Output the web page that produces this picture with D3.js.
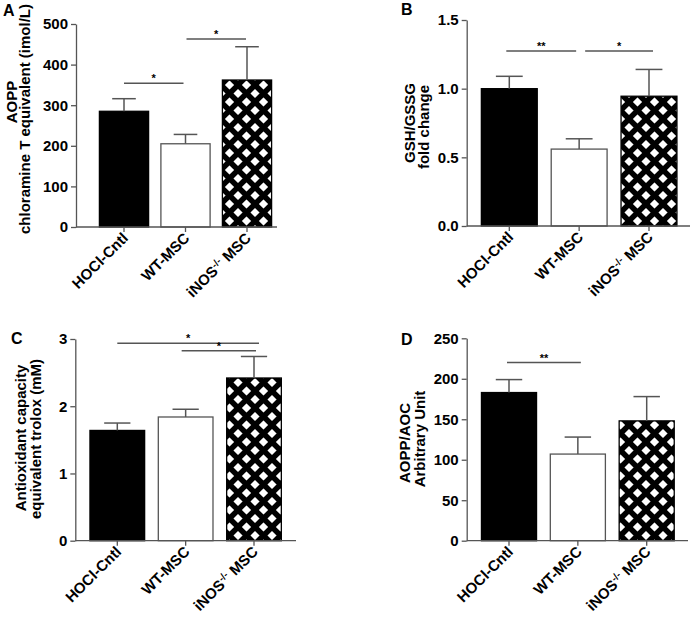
<!DOCTYPE html>
<html>
<head>
<meta charset="utf-8">
<script src="https://cdn.jsdelivr.net/npm/d3@7"></script>
<style>
html,body{margin:0;padding:0;background:#fff;}
svg{display:block;}
text{font-family:"Liberation Sans",Arial,Helvetica,sans-serif;font-weight:bold;fill:#000;}
</style>
</head>
<body>
<svg id="chart" width="694" height="623"></svg>
<script>
// ---------- data ----------
const categories = ["HOCl-Cntl", "WT-MSC", "iNOS-/- MSC"];

const aoppMean = [285, 205, 362];
const aoppSem  = [31, 23, 82];
const aoppTicks = [0, 100, 200, 300, 400, 500];
const aoppSig = [[0, 1, 354, "*"], [1, 2, 463, "*"]];

const gshMean = [1.0, 0.56, 0.945];
const gshSem  = [0.09, 0.075, 0.195];
const gshTicks = [0, 0.5, 1.0, 1.5];
const gshSig = [[0, 1, 1.275, "**"], [1, 2, 1.275, "*"]];

const aocMean = [1.64, 1.84, 2.42];
const aocSem  = [0.11, 0.115, 0.32];
const aocTicks = [0, 1, 2, 3];
const aocSig = [[0, 2, 2.937, "*"], [1, 2, 2.827, "*"]];

const ratioMean = [183, 107, 148];
const ratioSem  = [16, 21, 30];
const ratioTicks = [0, 50, 100, 150, 200, 250];
const ratioSig = [[0, 1, 220, "**"]];

// ---------- layout ----------
const svg = d3.select("#chart");
const defs = svg.append("defs");
const pat = defs.append("pattern").attr("id", "hatch")
  .attr("patternUnits", "userSpaceOnUse").attr("width", 17).attr("height", 17);
pat.append("rect").attr("width", 17).attr("height", 17).attr("fill", "#fff");
pat.append("path")
  .attr("d", "M-5,-5L22,22M22,-5L-5,22M-5,5L5,-5M12,22L22,12")
  .attr("stroke", "#000").attr("stroke-width", 5.5).attr("fill", "none");

const AXIS = "#555";
const fills = ["#000", "#fff", "url(#hatch)"];
const strokes = ["#000", AXIS, "#000"];
const FS = 15;

const panels = [
  { mean: aoppMean, sem: aoppSem, ticks: aoppTicks, sig: aoppSig, fmt: d3.format("d"),
    domain: [0, 500], left: 76, right: 277, y0: 227, yTop: 24, c0: 124, step: 61.5,
    letter: "A", lx: 3, ly: 16, sigDx: [[0, -2], [1, -1]],
    titles: [{t: "AOPP", x: 17, y: 102}, {t: "chloramine T equivalent (imol/L)", x: 30, y: 119}] },
  { mean: gshMean, sem: gshSem, ticks: gshTicks, sig: gshSig, fmt: d3.format(".1f"),
    domain: [0, 1.5], left: 466.7, right: 690, y0: 226, yTop: 20, c0: 509.3, step: 69.85,
    letter: "B", lx: 401, ly: 15, sigDx: [[-3, -3], [6, 4]],
    titles: [{t: "GSH/GSSG", x: 415, y: 123}, {t: "fold change", x: 429, y: 127}] },
  { mean: aocMean, sem: aocSem, ticks: aocTicks, sig: aocSig, fmt: d3.format("d"),
    domain: [0, 3], left: 75.3, right: 296, y0: 540.7, yTop: 339, c0: 117.3, step: 68.35,
    letter: "C", lx: 11, ly: 344, sigDx: [[0, 5], [-4, 2]],
    titles: [{t: "Antioxidant capacity", x: 26, y: 438}, {t: "equivalent trolox (mM)", x: 41, y: 439}] },
  { mean: ratioMean, sem: ratioSem, ticks: ratioTicks, sig: ratioSig, fmt: d3.format("d"),
    domain: [0, 250], left: 466.7, right: 688, y0: 540.7, yTop: 338.3, c0: 509, step: 68.85,
    letter: "D", lx: 401, ly: 345, sigDx: [[-2, 3]],
    titles: [{t: "AOPP/AOC", x: 410, y: 443}, {t: "Arbitrary Unit", x: 425, y: 439}] }
];

panels.forEach(p => {
  const g = svg.append("g");
  const y = d3.scaleLinear().domain(p.domain).range([p.y0, p.yTop]);
  const x = d3.scaleBand().domain(categories)
    .range([p.c0 - p.step / 2, p.c0 + 2.5 * p.step])
    .paddingInner(0.2).paddingOuter(0.1);
  const bw = x.bandwidth();
  const cx = c => x(c) + bw / 2;

  // bars
  g.selectAll("rect.bar").data(categories).join("rect")
    .attr("x", c => x(c))
    .attr("y", (c, i) => y(p.mean[i]))
    .attr("width", bw)
    .attr("height", (c, i) => p.y0 - y(p.mean[i]))
    .attr("fill", (c, i) => fills[i])
    .attr("stroke", (c, i) => strokes[i])
    .attr("stroke-width", 1.3);

  // error bars (upper only)
  const capW = bw * 0.24;
  categories.forEach((c, i) => {
    const top = y(p.mean[i] + p.sem[i]);
    g.append("line").attr("x1", cx(c)).attr("x2", cx(c))
      .attr("y1", y(p.mean[i])).attr("y2", top)
      .attr("stroke", AXIS).attr("stroke-width", 1.5);
    g.append("line").attr("x1", cx(c) - capW).attr("x2", cx(c) + capW)
      .attr("y1", top).attr("y2", top)
      .attr("stroke", AXIS).attr("stroke-width", 1.5);
  });

  // y axis
  const yAxis = d3.axisLeft(y).tickValues(p.ticks).tickFormat(p.fmt)
    .tickSizeInner(5).tickSizeOuter(0).tickPadding(3);
  const ya = g.append("g").attr("transform", `translate(${p.left},0)`).call(yAxis);
  ya.select(".domain").attr("stroke", AXIS).attr("stroke-width", 1.3);
  ya.selectAll(".tick line").attr("stroke", AXIS).attr("stroke-width", 1.3);
  ya.selectAll(".tick text").style("font-size", FS + "px").style("font-weight", "bold")
    .attr("fill", "#000").style("font-family", "'Liberation Sans', Arial, sans-serif");

  // x axis line and ticks
  g.append("line").attr("x1", p.left).attr("x2", p.right)
    .attr("y1", p.y0).attr("y2", p.y0)
    .attr("stroke", AXIS).attr("stroke-width", 1.3);
  const xa = d3.axisBottom(x).tickSizeInner(5).tickSizeOuter(0).tickFormat("");
  const xg = g.append("g").attr("transform", `translate(0,${p.y0})`).call(xa);
  xg.select(".domain").remove();
  xg.selectAll(".tick line").attr("stroke", AXIS).attr("stroke-width", 1.3);

  // x labels
  categories.forEach(c => {
    const t = g.append("text")
      .attr("transform", `translate(${cx(c) + 5},${p.y0 + 12}) rotate(-45)`)
      .attr("text-anchor", "end").style("font-size", FS + "px");
    if (c.indexOf("-/-") >= 0) {
      const parts = c.split("-/-");
      t.append("tspan").text(parts[0]);
      t.append("tspan").text("-/-").attr("dy", -5).style("font-size", "10px");
      t.append("tspan").text(parts[1]).attr("dy", 5);
    } else {
      t.text(c);
    }
  });

  // significance
  p.sig.forEach((s, k) => {
    const dx = p.sigDx[k];
    const x1 = cx(categories[s[0]]) + dx[0];
    const x2 = cx(categories[s[1]]) + dx[1];
    const yy = y(s[2]);
    g.append("line").attr("x1", x1).attr("x2", x2).attr("y1", yy).attr("y2", yy)
      .attr("stroke", AXIS).attr("stroke-width", 1.5);
    g.append("text").attr("x", (x1 + x2) / 2).attr("y", yy - 1)
      .attr("text-anchor", "middle").style("font-size", "11px").text(s[3]);
  });

  // titles
  p.titles.forEach(tt => {
    g.append("text").attr("transform", `translate(${tt.x},${tt.y}) rotate(-90)`)
      .attr("text-anchor", "middle").style("font-size", FS + "px").text(tt.t);
  });

  // panel letter
  g.append("text").attr("x", p.lx).attr("y", p.ly).style("font-size", "16px").text(p.letter);
});
</script>
</body>
</html>
